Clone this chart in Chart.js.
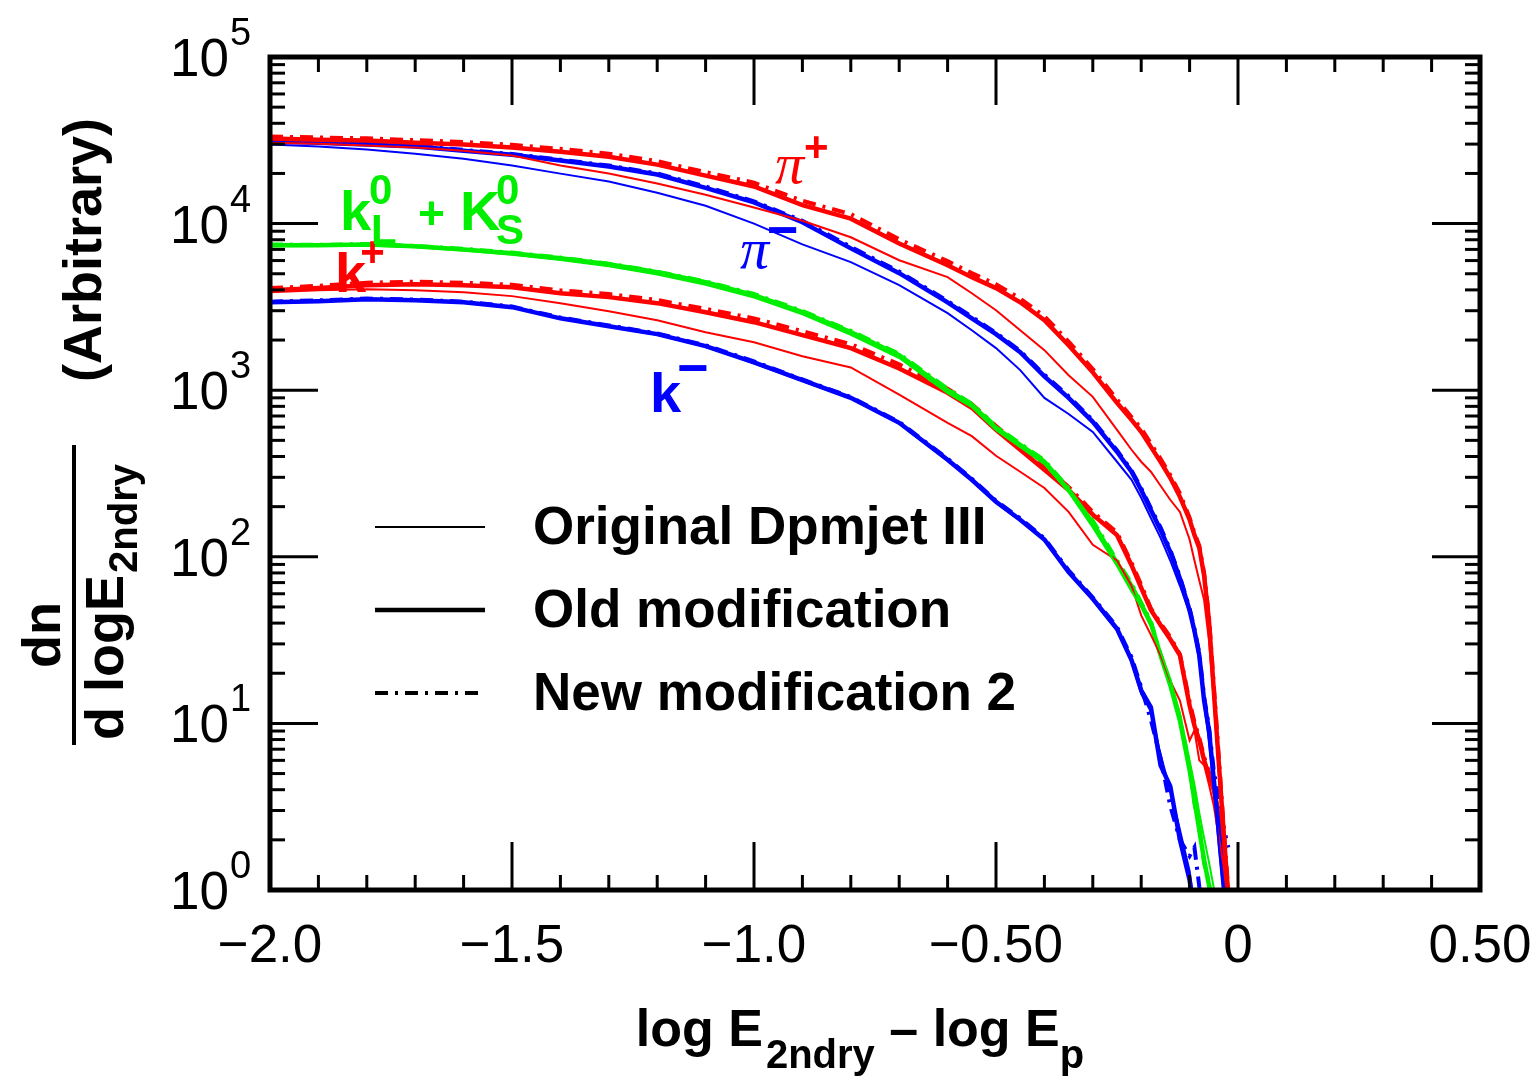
<!DOCTYPE html>
<html>
<head>
<meta charset="utf-8">
<script src="https://cdn.jsdelivr.net/npm/chart.js@4.4.1/dist/chart.umd.min.js"></script>
<style>
  html, body { margin: 0; padding: 0; background: #fff; }
  #wrap { width: 1538px; height: 1080px; }
</style>
</head>
<body>
<div id="wrap"><canvas id="myChart" width="1538" height="1080"></canvas></div>
<script>
const FONT = '"Liberation Sans", Arial, Helvetica, sans-serif';
const RED = '#ff0000', BLUE = '#0000ff', GREEN = '#00ee00';

// bin positions, log E2ndry - log Ep
const xVals = [-2.0,-1.9,-1.8,-1.7,-1.6,-1.5,-1.4,-1.3,-1.2,-1.1,-1.0,-0.9,-0.8,-0.7,-0.6,-0.55,-0.5,-0.45,-0.4,-0.35,-0.3,-0.25,-0.22,-0.2,-0.18,-0.16,-0.14,-0.12,-0.1,-0.09,-0.08,-0.07,-0.06,-0.05,-0.04,-0.03,-0.02];

// pi+
const piPlusOrig = [30600,30200,29400,28600,27400,25600,22300,20000,17400,14900,12500,10400,8280,6030,4770,3820,3020,2290,1740,1230,912,578,439,372,324,267,220,186,127,95,72,55,31.5,13.7,5.2,2.0,0.8];
const piPlusOld  = [32400,31900,31500,30600,29800,28600,27000,25200,22600,19400,16700,12900,10700,7600,5620,4770,4100,3370,2630,1860,1280,840,664,562,457,372,298,229,167,135,113,77,41.5,15.8,6.0,2.3,0.9];
const piPlusNew  = [33300,32900,32500,31700,30900,29700,28100,26300,23700,20400,17600,13700,11400,8050,5950,5050,4330,3550,2780,1960,1340,880,690,590,478,388,310,240,172,139,117,80,44,17,6.5,2.5,1.0];

// pi-
const piMinusOrig = [29800,29000,27800,26300,24500,22300,19950,17900,15300,12800,10000,7500,5870,4270,2900,2290,1790,1320,899,720,562,372,290,226,171,130,95,67,46,34,24,13,7.9,4.0,1.86,0.9,0.5];
const piMinusOld  = [31100,30600,29800,29000,27400,25900,23900,22000,19700,16400,13400,10200,7100,5040,3370,2700,2170,1690,1210,899,646,427,324,252,191,145,107,74,47.7,36,25.6,13.7,9.1,4.6,2.3,1.15,0.7];
const piMinusNew  = [31400,30900,30100,29300,27700,26200,24200,22300,20000,16700,13600,10400,7250,5150,3430,2760,2210,1720,1240,920,660,436,330,258,196,150,110,76,49,37,26.5,14.5,9.5,5.2,3.5,2.4,1.8];

// kL0 + kS0
const k0Orig = [7300,7350,7400,7200,6900,6500,6050,5550,4950,4300,3600,2850,2150,1560,960,790,575,455,360,245,150,88,62,50,38,27,18.5,11.5,6.0,4.3,2.9,2.05,1.47,1.03,0.6,null,null];
const k0Old  = [7410,7410,7500,7300,7000,6640,6200,5700,5100,4450,3720,2940,2230,1620,1000,817,595,470,372,252,160,92,67,52,40,25.6,17,10.4,5.25,3.47,2.29,1.51,1.07,0.7,null,null,null];
const k0New  = [7500,7450,7550,7350,7050,6700,6250,5750,5150,4500,3780,2990,2270,1650,1020,830,605,478,380,258,165,95,69,53,41,26,17.5,10.8,5.5,3.3,2.4,1.45,1.1,0.75,null,null,null];

// k+
const kPlusOrig = [3870,3980,4040,3980,3870,3670,3330,2980,2630,2230,1940,1600,1370,940,637,530,404,324,259,186,118,95,67,44.5,34,25.6,18,13.7,7.9,9.1,6.0,5.6,4.3,3.2,2.1,1.41,0.8];
const kPlusOld  = [3980,4100,4270,4330,4270,4150,3820,3620,3330,2940,2560,2140,1790,1350,965,785,578,439,333,252,179,135,89,65,48,39,32,25.6,12.8,9.7,7.9,6.0,4.9,4.0,2.8,1.86,0.93];
const kPlusNew  = [4100,4230,4420,4480,4420,4300,3970,3780,3480,3080,2700,2260,1890,1430,1020,825,610,462,350,263,186,140,92,68,49,40,33,26,13.5,10.2,8.2,6.3,5.1,4.1,2.9,1.9,0.95];

// k-
const kMinusOrig = [3350,3400,3500,3450,3350,3130,2680,2400,2150,1820,1450,1135,890,630,378,286,211,165,125,80,55,36,23.5,15,11.8,6.5,4.0,2.3,1.3,0.8,null,null,null,null,null,null,null];
const kMinusOld  = [3370,3420,3520,3470,3370,3150,2700,2420,2170,1840,1470,1150,900,637,382,290,214,167,127,81,56,37,24,15.8,12.5,5.6,4.2,2.0,1.15,0.7,null,null,null,null,null,null,null];
const kMinusNew  = [3400,3460,3550,3500,3400,3180,2730,2450,2190,1860,1490,1160,910,645,388,294,217,170,129,83,57,38,25,16.5,10.5,6.2,3.2,2.0,1.6,1.8,1.05,0.7,null,null,null,null,null];

// axis labels
const xTickText = { '-20': '\u22122.0', '-15': '\u22121.5', '-10': '\u22121.0', '-5': '\u22120.50', '0': '0', '5': '0.50' };
const yExponents = [0, 1, 2, 3, 4, 5];
const legendNames = ['Original Dpmjet III', 'Old modification', 'New modification 2'];

const lineStyles = {
  orig: { width: 2, dash: [] },
  old:  { width: 4.5, dash: [] },
  new2: { width: 4, dash: [13, 7, 3, 7] }
};

const curves = [
  ['orig', piPlusOrig, RED], ['orig', piMinusOrig, BLUE], ['orig', k0Orig, GREEN], ['orig', kPlusOrig, RED], ['orig', kMinusOrig, BLUE],
  ['old', piPlusOld, RED], ['old', piMinusOld, BLUE], ['old', k0Old, GREEN], ['old', kPlusOld, RED], ['old', kMinusOld, BLUE],
  ['new2', piPlusNew, RED], ['new2', piMinusNew, BLUE], ['new2', k0New, GREEN], ['new2', kPlusNew, RED], ['new2', kMinusNew, BLUE]
];

function pts(ys) {
  return xVals.map((x, i) => ({ x: x, y: ys[i] }));
}

const datasets = curves.map(c => ({
  data: pts(c[1]),
  borderColor: c[2],
  borderWidth: lineStyles[c[0]].width,
  borderDash: lineStyles[c[0]].dash,
  pointRadius: 0,
  tension: 0,
  fill: false,
  spanGaps: false
}));

// draw a row of text pieces (for sub/superscripts)
function runs(ctx, parts, x, y, align) {
  let total = 0;
  parts.forEach(p => { ctx.font = p.font; total += ctx.measureText(p.t).width + (p.dx || 0); });
  let cx = align === 'center' ? x - total / 2 : x;
  ctx.textAlign = 'left';
  ctx.textBaseline = 'alphabetic';
  parts.forEach(p => {
    ctx.font = p.font;
    ctx.fillStyle = p.color || '#000';
    ctx.fillText(p.t, cx + (p.dx || 0), y + (p.dy || 0));
    cx += ctx.measureText(p.t).width + (p.dx || 0);
  });
}

const decor = {
  id: 'decor',
  afterDraw(chart) {
    const ctx = chart.ctx;
    const a = chart.chartArea;
    const sx = chart.scales.x, sy = chart.scales.y;
    ctx.save();
    ctx.strokeStyle = '#000';
    ctx.setLineDash([]);
    ctx.lineWidth = 3;
    const seg = (x1, y1, x2, y2) => { ctx.beginPath(); ctx.moveTo(x1, y1); ctx.lineTo(x2, y2); ctx.stroke(); };

    // x ticks, top and bottom
    for (let i = -20; i <= 5; i++) {
      const px = sx.getPixelForValue(i / 10);
      const len = (i % 5 === 0) ? 48 : 15;
      seg(px, a.bottom, px, a.bottom - len);
      seg(px, a.top, px, a.top + len);
    }
    // y ticks, left and right
    for (let k = 0; k < 5; k++) {
      for (let m = 1; m <= 9; m++) {
        const py = sy.getPixelForValue(m * Math.pow(10, k));
        const len = m === 1 ? 48 : 15;
        seg(a.left, py, a.left + len, py);
        seg(a.right, py, a.right - len, py);
      }
    }
    // frame
    ctx.lineWidth = 5;
    ctx.strokeRect(a.left, a.top, a.right - a.left, a.bottom - a.top);

    // y tick labels 10^n
    ctx.fillStyle = '#000';
    yExponents.forEach(n => {
      const py = sy.getPixelForValue(Math.pow(10, n));
      ctx.font = '53px ' + FONT;
      ctx.textAlign = 'right';
      ctx.textBaseline = 'alphabetic';
      ctx.fillText('10', 229, py + 19);
      ctx.font = '38px ' + FONT;
      ctx.textAlign = 'left';
      ctx.fillText(String(n), 230, py - 12);
    });

    // x title
    const B = 'bold 52px ' + FONT, BS = 'bold 40px ' + FONT;
    runs(ctx, [
      { t: 'log E', font: B }, { t: '2ndry', font: BS, dy: 22, dx: 3 },
      { t: ' \u2013 log E', font: B }, { t: 'p', font: BS, dy: 22 }
    ], 860, 1046, 'center');

    // y title, rotated
    const BY = 'bold 54px ' + FONT, BYS = 'bold 40px ' + FONT;
    ctx.save();
    ctx.translate(101, 250);
    ctx.rotate(-Math.PI / 2);
    runs(ctx, [{ t: '(Arbitrary)', font: BY }], 0, 0, 'center');
    ctx.restore();
    ctx.save();
    ctx.translate(60, 635);
    ctx.rotate(-Math.PI / 2);
    runs(ctx, [{ t: 'dn', font: BY }], 0, 0, 'center');
    ctx.restore();
    ctx.fillRect(72, 445, 4, 300);
    ctx.save();
    ctx.translate(123, 602);
    ctx.rotate(-Math.PI / 2);
    runs(ctx, [{ t: 'd logE', font: BY }, { t: '2ndry', font: BYS, dy: 14, dx: 2 }], 0, 0, 'center');
    ctx.restore();

    // legend inside the plot
    const legY = [527, 610, 693];
    ['orig', 'old', 'new2'].forEach((s, i) => {
      ctx.strokeStyle = '#000';
      ctx.lineWidth = lineStyles[s].width;
      ctx.setLineDash(lineStyles[s].dash);
      seg(375, legY[i], 485, legY[i]);
      ctx.setLineDash([]);
      ctx.font = 'bold 53px ' + FONT;
      ctx.fillStyle = '#000';
      ctx.textAlign = 'left';
      ctx.fillText(legendNames[i], 533, legY[i] + 17);
    });

    // particle labels
    const PI = 'italic 58px "Liberation Serif", "DejaVu Serif", serif';
    const K = 'bold 56px ' + FONT, KS = 'bold 42px ' + FONT, KM = 'bold 54px ' + FONT;
    runs(ctx, [{ t: '\u03c0', font: PI, color: RED }, { t: '+', font: KS, color: RED, dy: -22 }], 775, 183, 'left');
    runs(ctx, [{ t: '\u03c0', font: PI, color: BLUE }, { t: '\u2212', font: KM, color: BLUE, dy: -20, dx: -2 }], 740, 268, 'left');
    runs(ctx, [{ t: 'k', font: K, color: RED }, { t: '+', font: KS, color: RED, dy: -26, dx: -6 }], 335, 292, 'left');
    runs(ctx, [{ t: 'k', font: K, color: BLUE }, { t: '\u2212', font: KM, color: BLUE, dy: -26, dx: -4 }], 650, 412, 'left');
    ctx.fillStyle = GREEN;
    ctx.textAlign = 'left';
    ctx.font = K;
    ctx.fillText('k', 340, 230);
    ctx.fillText('K', 460, 230);
    ctx.font = 'bold 46px ' + FONT;
    ctx.fillText('+', 418, 229);
    ctx.font = KS;
    ctx.fillText('0', 369, 204);
    ctx.fillText('L', 371, 244);
    ctx.fillText('0', 496, 204);
    ctx.fillText('S', 496, 244);
    ctx.restore();
  }
};

new Chart(document.getElementById('myChart').getContext('2d'), {
  type: 'line',
  data: { datasets: datasets },
  options: {
    responsive: false,
    animation: false,
    devicePixelRatio: 1,
    layout: { padding: { top: 57, right: 58, left: 0, bottom: 0 } },
    plugins: { legend: { display: false }, tooltip: { enabled: false } },
    scales: {
      x: {
        type: 'linear',
        min: -2,
        max: 0.5,
        grid: { display: false, drawTicks: false },
        border: { display: false },
        afterFit: s => { s.height = 190; s.paddingLeft = 0; s.paddingRight = 0; },
        ticks: {
          stepSize: 0.5,
          padding: 26,
          maxRotation: 0,
          autoSkip: false,
          color: '#000',
          font: { family: FONT, size: 53 },
          callback: v => xTickText[String(Math.round(v * 10))]
        }
      },
      y: {
        type: 'logarithmic',
        min: 1,
        max: 100000,
        grid: { display: false, drawTicks: false },
        border: { display: false },
        afterFit: s => { s.width = 270; s.paddingTop = 0; s.paddingBottom = 0; },
        ticks: { display: false }
      }
    }
  },
  plugins: [decor]
});
</script>
</body>
</html>
